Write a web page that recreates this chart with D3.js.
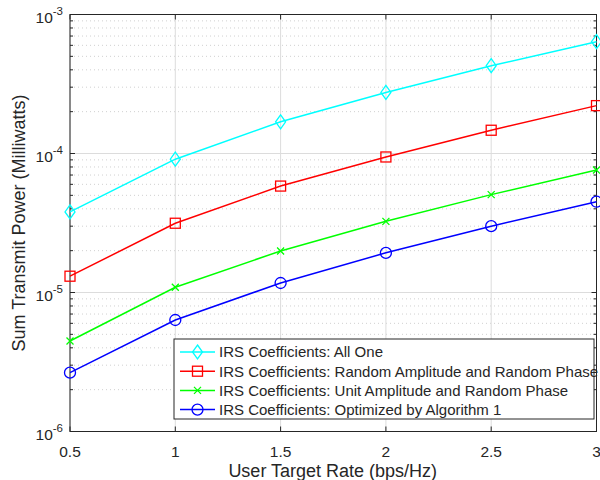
<!DOCTYPE html>
<head>
  <title>Sum Transmit Power vs User Target Rate</title>
  <script src="https://d3js.org/d3.v7.min.js"></script>
  <style>
    body { margin: 0; background: #fff; }
    text { font-family: "Liberation Sans", Arial, sans-serif; fill: #262626; }
    .grid-major line { stroke: #dcdcdc; stroke-width: 1; }
    .grid-minor line { stroke: #d0d0d0; stroke-width: 1; stroke-dasharray: 1,3; }
    .tick-mark { stroke: #262626; stroke-width: 1; }
  </style>
</head>
<body>
  <svg width="600" height="480"></svg>
  <script>
    // data
    const rates = [0.5, 1, 1.5, 2, 2.5, 3];
    const allOne    = [3.8e-5, 9.1e-5, 1.69e-4, 2.75e-4, 4.28e-4, 6.37e-4];
    const randAmp   = [1.31e-5, 3.15e-5, 5.83e-5, 9.44e-5, 1.47e-4, 2.21e-4];
    const unitAmp   = [4.48e-6, 1.09e-5, 1.99e-5, 3.25e-5, 5.06e-5, 7.6e-5];
    const optimized = [2.65e-6, 6.34e-6, 1.17e-5, 1.93e-5, 3.0e-5, 4.5e-5];
    const xTicks = [0.5, 1, 1.5, 2, 2.5, 3];
    const yDecades = [-6, -5, -4, -3];

    const series = [
      {name: "IRS Coefficients: All One", values: allOne, color: "#00ffff", marker: "diamond"},
      {name: "IRS Coefficients: Random Amplitude and Random Phase", values: randAmp, color: "#ff0000", marker: "square"},
      {name: "IRS Coefficients: Unit Amplitude and Random Phase", values: unitAmp, color: "#00ff00", marker: "x"},
      {name: "IRS Coefficients: Optimized by Algorithm 1", values: optimized, color: "#0000ff", marker: "circle"}
    ];

    const svg = d3.select("svg"),
      margin = {top: 14.5, right: 3.5, bottom: 48.5, left: 70},
      width  = +svg.attr("width") - margin.left - margin.right,
      height = +svg.attr("height") - margin.top - margin.bottom,
      x = d3.scaleLinear().domain([0.5, 3]).range([0, width]),
      y = d3.scaleLog().domain([1e-6, 1e-3]).range([height, 0]),
      g = svg.append("g").attr("transform", `translate(${margin.left},${margin.top})`);

    // minor log ticks
    const minor = [];
    yDecades.slice(0, -1).forEach(e => {
      for (let k = 2; k <= 9; k++) minor.push(k * Math.pow(10, e));
    });

    g.append("g").attr("class", "grid-minor")
      .selectAll("line").data(minor).enter().append("line")
      .attr("x1", 0).attr("x2", width)
      .attr("y1", d => y(d)).attr("y2", d => y(d));

    g.append("g").attr("class", "grid-major")
      .selectAll("line").data(xTicks).enter().append("line")
      .attr("x1", d => x(d)).attr("x2", d => x(d))
      .attr("y1", 0).attr("y2", height);
    g.append("g").attr("class", "grid-major")
      .selectAll("line").data(yDecades).enter().append("line")
      .attr("x1", 0).attr("x2", width)
      .attr("y1", d => y(Math.pow(10, d))).attr("y2", d => y(Math.pow(10, d)));

    // tick marks, inward on all four sides
    const tm = g.append("g");
    xTicks.forEach(t => {
      tm.append("line").attr("class", "tick-mark").attr("x1", x(t)).attr("x2", x(t)).attr("y1", height).attr("y2", height - 5);
      tm.append("line").attr("class", "tick-mark").attr("x1", x(t)).attr("x2", x(t)).attr("y1", 0).attr("y2", 5);
    });
    yDecades.forEach(e => {
      const yy = y(Math.pow(10, e));
      tm.append("line").attr("class", "tick-mark").attr("x1", 0).attr("x2", 5).attr("y1", yy).attr("y2", yy);
      tm.append("line").attr("class", "tick-mark").attr("x1", width).attr("x2", width - 5).attr("y1", yy).attr("y2", yy);
    });
    minor.forEach(v => {
      const yy = y(v);
      tm.append("line").attr("class", "tick-mark").attr("x1", 0).attr("x2", 3).attr("y1", yy).attr("y2", yy);
      tm.append("line").attr("class", "tick-mark").attr("x1", width).attr("x2", width - 3).attr("y1", yy).attr("y2", yy);
    });

    // tick labels
    g.append("g").selectAll("text").data(xTicks).enter().append("text")
      .attr("x", d => x(d)).attr("y", height + 25)
      .attr("text-anchor", "middle").style("font-size", "15.5px")
      .text(d => d);
    const yl = g.append("g").selectAll("text").data(yDecades).enter().append("text")
      .attr("x", -7).attr("y", d => y(Math.pow(10, d)) + 8)
      .attr("text-anchor", "end").style("font-size", "15.5px");
    yl.append("tspan").text("10");
    yl.append("tspan").attr("dy", -8).style("font-size", "11.5px").text(d => d);

    // axis labels
    svg.append("text")
      .attr("x", margin.left + width / 2 - 0.5).attr("y", 477)
      .attr("text-anchor", "middle").style("font-size", "18px")
      .text("User Target Rate (bps/Hz)");
    svg.append("text")
      .attr("transform", `translate(25,${margin.top + height / 2}) rotate(-90)`)
      .attr("text-anchor", "middle").style("font-size", "18px")
      .text("Sum Transmit Power (Milliwatts)");

    // plot box
    g.append("rect").attr("width", width).attr("height", height)
      .attr("fill", "none").attr("stroke", "#262626").attr("stroke-width", 1);

    function drawMarker(sel, type, color, cx, cy) {
      if (type === "diamond") {
        sel.append("path").attr("d", `M${cx},${cy - 7}L${cx + 5},${cy}L${cx},${cy + 7}L${cx - 5},${cy}Z`)
          .attr("fill", "none").attr("stroke", color).attr("stroke-width", 1.3);
      } else if (type === "square") {
        sel.append("rect").attr("x", cx - 5).attr("y", cy - 5).attr("width", 10).attr("height", 10)
          .attr("fill", "none").attr("stroke", color).attr("stroke-width", 1.3);
      } else if (type === "x") {
        sel.append("path").attr("d", `M${cx - 3.5},${cy - 3.5}L${cx + 3.5},${cy + 3.5}M${cx - 3.5},${cy + 3.5}L${cx + 3.5},${cy - 3.5}`)
          .attr("stroke", color).attr("stroke-width", 1.3);
      } else {
        sel.append("circle").attr("cx", cx).attr("cy", cy).attr("r", 5.5)
          .attr("fill", "none").attr("stroke", color).attr("stroke-width", 1.3);
      }
    }

    const line = d3.line().x((d, i) => x(rates[i])).y(d => y(d));
    series.forEach(s => {
      g.append("path").datum(s.values)
        .attr("d", line).attr("fill", "none")
        .attr("stroke", s.color).attr("stroke-width", 1.5);
      const mg = g.append("g");
      s.values.forEach((v, i) => drawMarker(mg, s.marker, s.color, x(rates[i]), y(v)));
    });

    // legend
    const lg = svg.append("g").attr("transform", "translate(174,339)");
    lg.append("rect").attr("width", 420).attr("height", 80)
      .attr("fill", "#fff").attr("stroke", "#262626").attr("stroke-width", 1);
    series.forEach((s, i) => {
      const ly = 13 + i * 19.2;
      lg.append("line").attr("x1", 6).attr("x2", 41).attr("y1", ly).attr("y2", ly)
        .attr("stroke", s.color).attr("stroke-width", 1.5);
      drawMarker(lg, s.marker, s.color, 23.5, ly);
      lg.append("text").attr("x", 45).attr("y", ly + 5.3)
        .style("font-size", "15px").text(s.name);
    });
  </script>
</body>
